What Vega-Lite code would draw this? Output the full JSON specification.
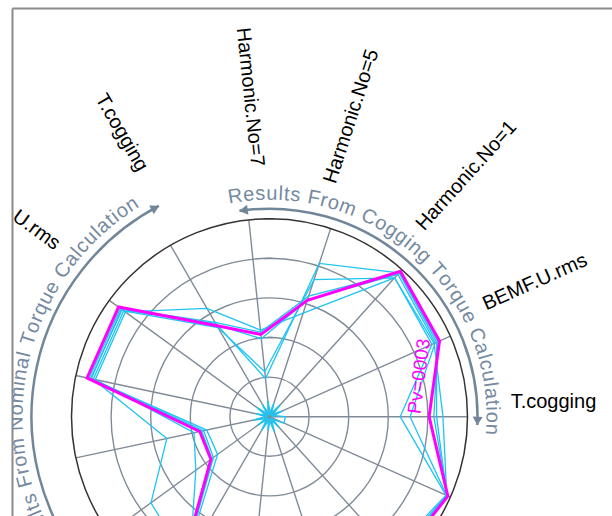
{
"$schema": "https://vega.github.io/schema/vega-lite/v6.json",
"width": 600, "height": 508,
"autosize": {"type": "none"},
"padding": {"left": 12, "top": 8, "right": 0, "bottom": 0},
"background": "white",
"config": {"view": {"stroke": null}},
"datasets": {
"series": [
{"series":"Pv=0001","axis":0,"value":4.22},{"series":"Pv=0001","axis":1,"value":4.62},{"series":"Pv=0001","axis":2,"value":4.89},{"series":"Pv=0001","axis":3,"value":4.07},{"series":"Pv=0001","axis":4,"value":0.97},{"series":"Pv=0001","axis":5,"value":2.72},{"series":"Pv=0001","axis":6,"value":4.60},{"series":"Pv=0001","axis":7,"value":4.62},{"series":"Pv=0001","axis":8,"value":1.62},{"series":"Pv=0001","axis":9,"value":1.62},{"series":"Pv=0001","axis":10,"value":4.35},{"series":"Pv=0001","axis":11,"value":4.20},{"series":"Pv=0001","axis":12,"value":4.40},{"series":"Pv=0001","axis":13,"value":4.70},{"series":"Pv=0001","axis":14,"value":4.90},
{"series":"Pv=0002","axis":0,"value":4.38},{"series":"Pv=0002","axis":1,"value":4.55},{"series":"Pv=0002","axis":2,"value":4.72},{"series":"Pv=0002","axis":3,"value":3.64},{"series":"Pv=0002","axis":4,"value":1.14},{"series":"Pv=0002","axis":5,"value":2.60},{"series":"Pv=0002","axis":6,"value":4.55},{"series":"Pv=0002","axis":7,"value":4.55},{"series":"Pv=0002","axis":8,"value":2.65},{"series":"Pv=0002","axis":9,"value":3.70},{"series":"Pv=0002","axis":10,"value":4.20},{"series":"Pv=0002","axis":11,"value":4.10},{"series":"Pv=0002","axis":12,"value":4.30},{"series":"Pv=0002","axis":13,"value":4.70},{"series":"Pv=0002","axis":14,"value":4.90},
{"series":"Pv=0003","axis":0,"value":4.03},{"series":"Pv=0003","axis":1,"value":4.70},{"series":"Pv=0003","axis":2,"value":4.94},{"series":"Pv=0003","axis":3,"value":3.09},{"series":"Pv=0003","axis":4,"value":2.09},{"series":"Pv=0003","axis":5,"value":2.65},{"series":"Pv=0003","axis":6,"value":4.71},{"series":"Pv=0003","axis":7,"value":4.71},{"series":"Pv=0003","axis":8,"value":1.80},{"series":"Pv=0003","axis":9,"value":1.83},{"series":"Pv=0003","axis":10,"value":4.52},{"series":"Pv=0003","axis":11,"value":4.40},{"series":"Pv=0003","axis":12,"value":4.60},{"series":"Pv=0003","axis":13,"value":4.85},{"series":"Pv=0003","axis":14,"value":4.93},
{"series":"Pv=0004","axis":0,"value":3.30},{"series":"Pv=0004","axis":1,"value":4.49},{"series":"Pv=0004","axis":2,"value":4.72},{"series":"Pv=0004","axis":3,"value":2.75},{"series":"Pv=0004","axis":4,"value":2.20},{"series":"Pv=0004","axis":5,"value":3.16},{"series":"Pv=0004","axis":6,"value":4.50},{"series":"Pv=0004","axis":7,"value":4.50},{"series":"Pv=0004","axis":8,"value":1.95},{"series":"Pv=0004","axis":9,"value":2.30},{"series":"Pv=0004","axis":10,"value":4.00},{"series":"Pv=0004","axis":11,"value":4.00},{"series":"Pv=0004","axis":12,"value":4.20},{"series":"Pv=0004","axis":13,"value":4.60},{"series":"Pv=0004","axis":14,"value":4.88},
{"series":"Pv=0005","axis":0,"value":3.55},{"series":"Pv=0005","axis":1,"value":4.58},{"series":"Pv=0005","axis":2,"value":4.84},{"series":"Pv=0005","axis":3,"value":3.10},{"series":"Pv=0005","axis":4,"value":1.98},{"series":"Pv=0005","axis":5,"value":2.68},{"series":"Pv=0005","axis":6,"value":4.62},{"series":"Pv=0005","axis":7,"value":4.60},{"series":"Pv=0005","axis":8,"value":1.70},{"series":"Pv=0005","axis":9,"value":1.75},{"series":"Pv=0005","axis":10,"value":4.40},{"series":"Pv=0005","axis":11,"value":4.30},{"series":"Pv=0005","axis":12,"value":4.50},{"series":"Pv=0005","axis":13,"value":4.75},{"series":"Pv=0005","axis":14,"value":4.90},
{"series":"Pv=0006","axis":0,"value":4.15},{"series":"Pv=0006","axis":1,"value":4.66},{"series":"Pv=0006","axis":2,"value":4.90},{"series":"Pv=0006","axis":3,"value":3.20},{"series":"Pv=0006","axis":4,"value":2.15},{"series":"Pv=0006","axis":5,"value":2.75},{"series":"Pv=0006","axis":6,"value":4.65},{"series":"Pv=0006","axis":7,"value":4.66},{"series":"Pv=0006","axis":8,"value":1.75},{"series":"Pv=0006","axis":9,"value":1.80},{"series":"Pv=0006","axis":10,"value":4.45},{"series":"Pv=0006","axis":11,"value":4.35},{"series":"Pv=0006","axis":12,"value":4.55},{"series":"Pv=0006","axis":13,"value":4.80},{"series":"Pv=0006","axis":14,"value":4.92},
{"series":"Pv=0007","axis":0,"value":0.40},{"series":"Pv=0007","axis":1,"value":0.08},{"series":"Pv=0007","axis":2,"value":0.40},{"series":"Pv=0007","axis":3,"value":0.08},{"series":"Pv=0007","axis":4,"value":0.40},{"series":"Pv=0007","axis":5,"value":0.08},{"series":"Pv=0007","axis":6,"value":0.40},{"series":"Pv=0007","axis":7,"value":0.08},{"series":"Pv=0007","axis":8,"value":0.40},{"series":"Pv=0007","axis":9,"value":0.08},{"series":"Pv=0007","axis":10,"value":0.40},{"series":"Pv=0007","axis":11,"value":0.08},{"series":"Pv=0007","axis":12,"value":0.40},{"series":"Pv=0007","axis":13,"value":0.08},{"series":"Pv=0007","axis":14,"value":0.40},
{"series":"Pv=0008","axis":0,"value":0.06},{"series":"Pv=0008","axis":1,"value":0.36},{"series":"Pv=0008","axis":2,"value":0.06},{"series":"Pv=0008","axis":3,"value":0.36},{"series":"Pv=0008","axis":4,"value":0.06},{"series":"Pv=0008","axis":5,"value":0.36},{"series":"Pv=0008","axis":6,"value":0.06},{"series":"Pv=0008","axis":7,"value":0.36},{"series":"Pv=0008","axis":8,"value":0.06},{"series":"Pv=0008","axis":9,"value":0.36},{"series":"Pv=0008","axis":10,"value":0.06},{"series":"Pv=0008","axis":11,"value":0.36},{"series":"Pv=0008","axis":12,"value":0.06},{"series":"Pv=0008","axis":13,"value":0.36},{"series":"Pv=0008","axis":14,"value":0.06}
],
"axes": [
{"axis":0,"label":"T.cogging"},{"axis":1,"label":"BEMF.U.rms"},{"axis":2,"label":"Harmonic.No=1"},{"axis":3,"label":"Harmonic.No=5"},{"axis":4,"label":"Harmonic.No=7"},{"axis":5,"label":"T.cogging"},{"axis":6,"label":"Line.U.rms"},{"axis":7,"label":""},{"axis":8,"label":""},{"axis":9,"label":""},{"axis":10,"label":""},{"axis":11,"label":""},{"axis":12,"label":""},{"axis":13,"label":""},{"axis":14,"label":""}
],
"rings": [{"ring":1},{"ring":2},{"ring":3},{"ring":4},{"ring":5}],
"groups": [
{"title":"Results From Cogging Torque Calculation","first":0,"last":4,"level":1},
{"title":"Results From Nominal Torque Calculation","first":5,"last":9,"level":2}
]
},
"encoding": {
"x": {"field":"px","type":"quantitative","scale":{"domain":[-6.5025,8.649],"nice":false,"zero":false},"axis":{"orient":"top","domain":true,"domainColor":"#8a8a8a","domainWidth":2,"ticks":false,"labels":false,"grid":false,"title":null}},
"y": {"field":"py","type":"quantitative","scale":{"domain":[-2.5076,10.3207],"nice":false,"zero":false},"axis":{"orient":"left","domain":true,"domainColor":"#8a8a8a","domainWidth":2,"ticks":false,"labels":false,"grid":false,"title":null}}
},
"layer": [
{"data":{"name":"rings"},
 "transform":[{"filter":"datum.ring < 5"},{"calculate":"0","as":"px"},{"calculate":"0","as":"py"}],
 "mark":{"type":"arc","filled":false,"color":"#808b98","stroke":"#808b98","strokeWidth":1.4,"theta":0,"theta2":6.2832,"clip":true},
 "encoding":{"radius":{"field":"ring","type":"quantitative","scale":{"type":"linear","domain":[0,5],"range":[0,198]}},"radius2":{"field":"ring"}}},
{"data":{"name":"axes"},
 "transform":[{"calculate":"0","as":"px"},{"calculate":"0","as":"py"},{"calculate":"5*cos(datum.axis*24*PI/180)","as":"ex"},{"calculate":"5*sin(datum.axis*24*PI/180)","as":"ey"}],
 "mark":{"type":"rule","color":"#808b98","strokeWidth":1.4,"clip":true},
 "encoding":{"x2":{"field":"ex"},"y2":{"field":"ey"}}},
{"data":{"name":"rings"},
 "transform":[{"filter":"datum.ring == 5"},{"calculate":"0","as":"px"},{"calculate":"0","as":"py"}],
 "mark":{"type":"arc","filled":false,"color":"#333333","stroke":"#333333","strokeWidth":1.5,"theta":0,"theta2":6.2832,"clip":true},
 "encoding":{"radius":{"field":"ring","type":"quantitative","scale":{"type":"linear","domain":[0,5],"range":[0,198]}},"radius2":{"field":"ring"}}},
{"data":{"name":"series"},
 "transform":[{"filter":"datum.series != 'Pv=0003'"},{"calculate":"datum.value*cos(datum.axis*24*PI/180)","as":"px"},{"calculate":"datum.value*sin(datum.axis*24*PI/180)","as":"py"}],
 "mark":{"type":"line","interpolate":"linear-closed","color":"#1ec4f4","strokeWidth":1.3,"clip":true},
 "encoding":{"detail":{"field":"series","type":"nominal"},"order":{"field":"axis","type":"quantitative"}}},
{"data":{"name":"series"},
 "transform":[{"filter":"datum.series == 'Pv=0003'"},{"calculate":"datum.value*cos(datum.axis*24*PI/180)","as":"px"},{"calculate":"datum.value*sin(datum.axis*24*PI/180)","as":"py"}],
 "mark":{"type":"line","interpolate":"linear-closed","color":"#ff00ff","strokeWidth":3,"clip":true},
 "encoding":{"detail":{"field":"series","type":"nominal"},"order":{"field":"axis","type":"quantitative"}}},
{"data":{"name":"series"},
 "transform":[{"filter":"datum.series == 'Pv=0003' && datum.axis == 0"},{"calculate":"datum.value*cos(datum.axis*24*PI/180)","as":"px"},{"calculate":"datum.value*sin(datum.axis*24*PI/180)","as":"py"}],
 "mark":{"type":"text","angle":277.4,"align":"left","baseline":"alphabetic","dx":1,"dy":-9,"fontSize":19,"font":"Liberation Sans","color":"#ff00ff","clip":true},
 "encoding":{"text":{"field":"series"}}},
{"data":{"name":"axes"},
 "transform":[{"filter":"datum.label != '' && (datum.axis*24 <= 90 || datum.axis*24 >= 270)"},{"calculate":"datum.axis*24","as":"deg"},{"calculate":"6.09*cos(datum.deg*PI/180)","as":"px"},{"calculate":"6.09*sin(datum.deg*PI/180)","as":"py"},{"calculate":"(360 - datum.deg) % 360","as":"rot"}],
 "mark":{"type":"text","align":"left","baseline":"middle","dy":-15,"fontSize":20,"font":"Liberation Sans","color":"#000000","clip":true},
 "encoding":{"text":{"field":"label"},"angle":{"field":"rot","type":"quantitative","scale":null}}},
{"data":{"name":"axes"},
 "transform":[{"filter":"datum.label != '' && datum.axis*24 > 90 && datum.axis*24 < 270"},{"calculate":"datum.axis*24","as":"deg"},{"calculate":"8.08*cos(datum.deg*PI/180)","as":"px"},{"calculate":"8.08*sin(datum.deg*PI/180)","as":"py"},{"calculate":"180 - datum.deg + 360","as":"rot"}],
 "mark":{"type":"text","align":"center","baseline":"middle","dy":-14,"fontSize":20,"font":"Liberation Sans","color":"#000000","clip":true},
 "encoding":{"text":{"field":"label"},"angle":{"field":"rot","type":"quantitative","scale":null}}},
{"data":{"name":"groups"},
 "transform":[{"calculate":"5.253 + (datum.level-1)*0.758","as":"rr"},{"calculate":"(90 - (datum.last*24 + 2.3))*PI/180","as":"t0"},{"calculate":"(90 - (datum.first*24 - 2.3))*PI/180","as":"t1"},{"calculate":"0","as":"px"},{"calculate":"0","as":"py"}],
 "mark":{"type":"arc","filled":false,"color":"#72869a","stroke":"#72869a","strokeWidth":2.5,"clip":true},
 "encoding":{"theta":{"field":"t0","type":"quantitative","scale":null,"stack":null},"theta2":{"field":"t1"},"radius":{"field":"rr","type":"quantitative","scale":{"type":"linear","domain":[0,5],"range":[0,198]}},"radius2":{"field":"rr"}}},
{"data":{"name":"groups"},
 "transform":[{"calculate":"5.253 + (datum.level-1)*0.758","as":"rr"},{"calculate":"datum.first*24 - 2.3","as":"lo"},{"calculate":"datum.last*24 + 2.3","as":"hi"},{"fold":["lo","hi"],"as":["end","phi"]},{"calculate":"datum.end == 'lo' ? datum.phi + 5.8/datum.rr : datum.phi - 5.8/datum.rr","as":"d"},{"calculate":"datum.rr*cos(datum.d*PI/180)","as":"px"},{"calculate":"datum.rr*sin(datum.d*PI/180)","as":"py"},{"calculate":"datum.end == 'lo' ? (540 - datum.phi) % 360 : (720 - datum.phi) % 360","as":"rot"}],
 "mark":{"type":"point","shape":"triangle-up","filled":true,"size":100,"color":"#72869a","opacity":1,"clip":true},
 "encoding":{"angle":{"field":"rot","type":"quantitative","scale":null}}},
{"data":{"name":"groups"},
 "transform":[
  {"calculate":"split(datum.title,'')","as":"chars"},
  {"flatten":["chars"],"as":["ch"]},
  {"window":[{"op":"row_number","as":"idx"}],"groupby":["title"]},
  {"calculate":"datum.ch == 'm' ? 0.833 : indexof('RCN', datum.ch) >= 0 ? 0.722 : indexof('FT', datum.ch) >= 0 ? 0.611 : indexof('eungoqa', datum.ch) >= 0 ? 0.556 : indexof('sc', datum.ch) >= 0 ? 0.5 : datum.ch == 'r' ? 0.333 : indexof(' t', datum.ch) >= 0 ? 0.278 : 0.222","as":"w"},
  {"calculate":"datum.w*20 + 1","as":"adv"},
  {"window":[{"op":"sum","field":"adv","as":"cum"}],"groupby":["title"],"sort":[{"field":"idx","order":"ascending"}],"frame":[null,0]},
  {"joinaggregate":[{"op":"sum","field":"adv","as":"tot"}],"groupby":["title"]},
  {"calculate":"5.631 + (datum.level-1)*0.758","as":"rt"},
  {"calculate":"(datum.first+datum.last)/2*24 - (datum.cum - datum.adv/2 - datum.tot/2)/(datum.rt*39.6)*180/PI","as":"deg"},
  {"calculate":"datum.rt*cos(datum.deg*PI/180)","as":"px"},
  {"calculate":"datum.rt*sin(datum.deg*PI/180)","as":"py"},
  {"calculate":"((90 - datum.deg) % 360 + 360) % 360","as":"rot"}
 ],
 "mark":{"type":"text","align":"center","baseline":"middle","fontSize":20,"font":"Liberation Sans","color":"#7589a0","clip":true},
 "encoding":{"text":{"field":"ch"},"angle":{"field":"rot","type":"quantitative","scale":null}}}
]
}
